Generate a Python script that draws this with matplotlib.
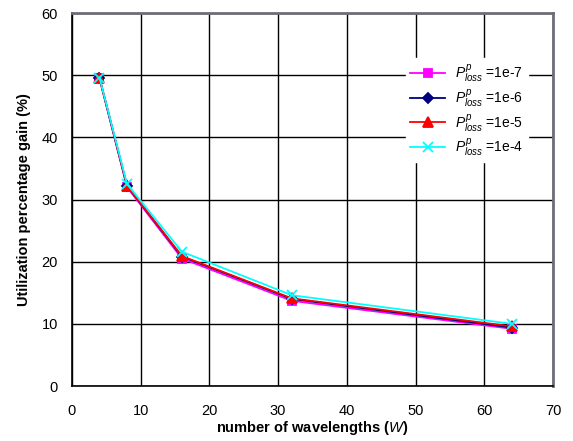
import matplotlib
matplotlib.use("Agg")
import matplotlib.pyplot as plt

plt.rcParams['font.family'] = ['Liberation Sans', 'DejaVu Sans']
plt.rcParams['mathtext.fontset'] = 'custom'
plt.rcParams['mathtext.rm'] = 'Liberation Sans'
plt.rcParams['mathtext.it'] = 'Liberation Sans:italic'
plt.rcParams['mathtext.bf'] = 'Liberation Sans:bold'

wavelengths = [4, 8, 16, 32, 64]
gain_1e7 = [49.5, 32.0, 20.5, 13.7, 9.2]
gain_1e6 = [49.5, 32.2, 20.8, 14.0, 9.4]
gain_1e5 = [49.6, 32.2, 20.9, 14.1, 9.6]
gain_1e4 = [49.6, 32.5, 21.6, 14.6, 10.0]
labels = [r"$P^{p}_{loss}$ =1e-7", r"$P^{p}_{loss}$ =1e-6",
          r"$P^{p}_{loss}$ =1e-5", r"$P^{p}_{loss}$ =1e-4"]
xticks = [0, 10, 20, 30, 40, 50, 60, 70]
yticks = [0, 10, 20, 30, 40, 50, 60]

fig = plt.figure(figsize=(5.73, 4.41), dpi=100)
ax = fig.add_axes([72/573, (441-386)/441, (553-72)/573, (386-13)/441])

series = [
    (gain_1e7, '#ff00ff', 's', 6),
    (gain_1e6, '#000080', 'D', 5),
    (gain_1e5, '#ff0000', '^', 7),
    (gain_1e4, '#00ffff', 'x', 7),
]
for (vals, c, m, ms), lab in zip(series, labels):
    ax.plot(wavelengths, vals, color=c, marker=m, markersize=ms, lw=1.3,
            markeredgewidth=1.3, label=lab)

ax.set_xlim(0, 70)
ax.set_ylim(0, 60)
ax.set_xticks(xticks)
ax.set_yticks(yticks)
ax.tick_params(axis='x', length=0, labelsize=10.5, pad=13)
ax.tick_params(axis='y', length=0, labelsize=10.5, pad=10)
ax.grid(True, color='black', lw=1.0)
ax.set_axisbelow(True)
for s in ['left', 'bottom']:
    ax.spines[s].set_color('black')
    ax.spines[s].set_linewidth(1.2)
for s in ['top', 'right']:
    ax.spines[s].set_color('#6e6e78')
    ax.spines[s].set_linewidth(2.0)

ax.set_xlabel(r"number of wavelengths ($\mathbf{\mathit{W}}$)", fontsize=10.5,
              fontweight='bold', labelpad=1)
ax.set_ylabel("Utilization percentage gain (%)", fontsize=10.5,
              fontweight='bold', labelpad=8)

leg = ax.legend(loc='upper left', bbox_to_anchor=((406-72)/481, (386-58)/373),
                frameon=True, fancybox=False, edgecolor='white', facecolor='white',
                framealpha=1, fontsize=10, handlelength=2.5, borderpad=0.3,
                borderaxespad=0, labelspacing=0.2, handletextpad=0.75)

fig.savefig("out.png", dpi=100)
